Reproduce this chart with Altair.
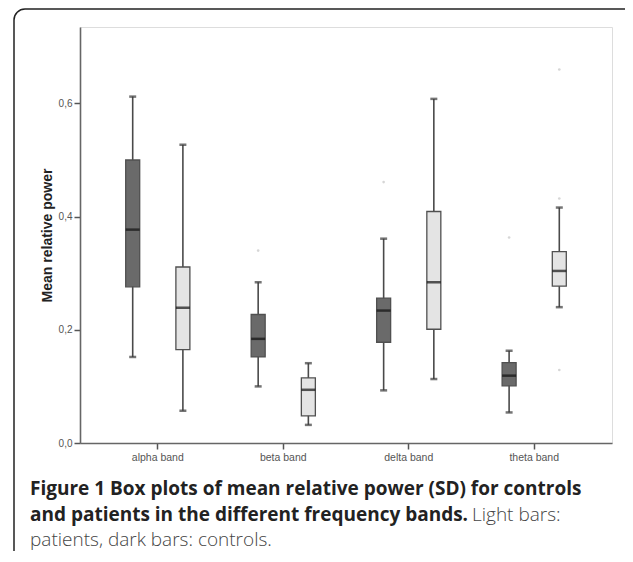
import altair as alt
import pandas as pd

bands = ["alpha band", "beta band", "delta band", "theta band"]
groups = ["controls", "patients"]

# controls (dark boxes)
c_low = [0.152, 0.100, 0.093, 0.054]
c_q1 = [0.276, 0.152, 0.178, 0.101]
c_med = [0.377, 0.184, 0.234, 0.119]
c_q3 = [0.500, 0.227, 0.256, 0.142]
c_high = [0.612, 0.284, 0.361, 0.163]

# patients (light boxes)
p_low = [0.057, 0.032, 0.113, 0.240]
p_q1 = [0.165, 0.048, 0.201, 0.277]
p_med = [0.239, 0.094, 0.284, 0.304]
p_q3 = [0.311, 0.115, 0.409, 0.338]
p_high = [0.527, 0.141, 0.608, 0.416]

out_group = ["controls", "controls", "controls", "patients", "patients", "patients"]
out_band = ["beta band", "delta band", "theta band", "theta band", "theta band", "theta band"]
out_value = [0.340, 0.461, 0.363, 0.660, 0.432, 0.129]

y_ticks = [0.0, 0.2, 0.4, 0.6]

rows = []
for i, b in enumerate(bands):
    rows.append(dict(band=b, group="controls", low=c_low[i], q1=c_q1[i], med=c_med[i], q3=c_q3[i], high=c_high[i]))
    rows.append(dict(band=b, group="patients", low=p_low[i], q1=p_q1[i], med=p_med[i], q3=p_q3[i], high=p_high[i]))
df = pd.DataFrame(rows)
outl = pd.DataFrame(dict(band=out_band, group=out_group, value=out_value))

W, H = 532, 416

xenc = alt.X("band:N", sort=bands, title=None,
             scale=alt.Scale(paddingInner=0, paddingOuter=0.12),
             axis=alt.Axis(labelAngle=0, labelFont="Liberation Sans", labelFontSize=10.5,
                           labelColor="#555", tickColor="#555", tickSize=6, tickWidth=1.5,
                           domainColor="#666", domainWidth=1.6, labelPadding=3))
xoff = alt.XOffset("group:N", sort=groups, scale=alt.Scale(paddingInner=0, paddingOuter=0.25))
yscale = alt.Scale(domain=[0, 0.735], nice=False)
yaxis = alt.Axis(values=y_ticks, labelExpr="replace(format(datum.value, '.1f'), '.', ',')",
                 grid=False, labelFont="Liberation Sans", labelFontSize=10, labelColor="#555",
                 tickColor="#555", tickSize=6, tickWidth=1.5, domainColor="#666", domainWidth=1.6,
                 labelPadding=2, title="Mean relative power", titleFont="Liberation Sans",
                 titleFontSize=14, titleFontWeight="bold", titleColor="#222",
                 titleX=-33, titleY=H / 2, titleAngle=-90, titleAlign="center", titleBaseline="middle")

colscale = alt.Scale(domain=groups, range=["#6a6a6a", "#e4e4e4"])

base = alt.Chart(df)

whisk = base.mark_rule(color="#4a4a4a", strokeWidth=1.6).encode(
    x=xenc, xOffset=xoff,
    y=alt.Y("low:Q", scale=yscale, axis=yaxis), y2="high:Q")

caps_low = base.mark_tick(color="#3a3a3a", size=7, thickness=2.5).encode(
    x=xenc, xOffset=xoff, y=alt.Y("low:Q", scale=yscale))
caps_high = base.mark_tick(color="#3a3a3a", size=7, thickness=2.5).encode(
    x=xenc, xOffset=xoff, y=alt.Y("high:Q", scale=yscale))

box = base.mark_bar(width=14, stroke="#505050", strokeWidth=1.3).encode(
    x=xenc, xOffset=xoff,
    y=alt.Y("q1:Q", scale=yscale), y2="q3:Q",
    color=alt.Color("group:N", scale=colscale, legend=None))

med = base.mark_tick(color="#111", size=14, thickness=2.5).encode(
    x=xenc, xOffset=xoff, y=alt.Y("med:Q", scale=yscale))

pts = alt.Chart(outl).mark_point(filled=True, color="#d6d6d6", size=7, opacity=1).encode(
    x=xenc, xOffset=xoff, y=alt.Y("value:Q", scale=yscale))

one = pd.DataFrame({"k": [0]})
frame = alt.Chart(one).mark_rect(fill=None, stroke="#222", strokeWidth=1.5, cornerRadius=11).encode(
    x=alt.value(-66), x2=alt.value(620), y=alt.value(-18), y2=alt.value(545))

cap_font = "Open Sans"
FS = 19
t1 = alt.Chart(one).mark_text(text="Figure 1 Box plots of mean relative power (SD) for controls",
                              font=cap_font, fontSize=FS, fontWeight="bold", color="#222",
                              align="left", baseline="middle").encode(x=alt.value(-50), y=alt.value(462))
t2 = alt.Chart(one).mark_text(text="and patients in the different frequency bands.",
                              font=cap_font, fontSize=FS, fontWeight="bold", color="#222",
                              align="left", baseline="middle").encode(x=alt.value(-50), y=alt.value(488))
t2b = alt.Chart(one).mark_text(text="Light bars:",
                               font=cap_font, fontSize=FS, fontWeight=300, color="#444",
                               align="left", baseline="middle").encode(x=alt.value(392), y=alt.value(488))
t3 = alt.Chart(one).mark_text(text="patients, dark bars: controls.",
                              font=cap_font, fontSize=FS, fontWeight=300, color="#444",
                              align="left", baseline="middle").encode(x=alt.value(-50), y=alt.value(513))

chart = alt.layer(frame, whisk, caps_low, caps_high, box, med, pts, t1, t2, t2b, t3).properties(
    width=W, height=H,
    autosize=alt.AutoSizeParams(type="none"),
    padding={"left": 72, "top": 19, "right": 13, "bottom": 108},
).configure_view(stroke="#999", strokeWidth=1.6).configure(background="white")

chart.save("out.html", embed_options={"renderer": "svg", "actions": False})
